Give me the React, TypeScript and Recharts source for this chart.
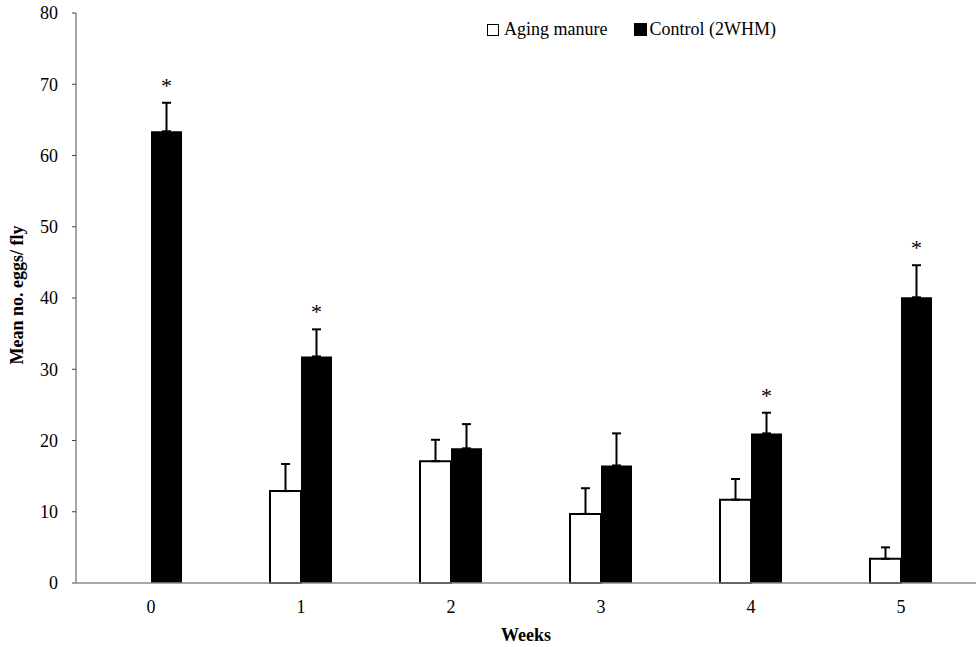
import React from "react";
import {
  BarChart,
  Bar,
  XAxis,
  YAxis,
  ErrorBar,
  LabelList,
} from "recharts";

const weeks = ["0", "1", "2", "3", "4", "5"];
const agingManure = [null, 12.9, 17.1, 9.7, 11.7, 3.4];
const agingManureErr = [null, 3.8, 3.0, 3.6, 2.9, 1.6];
const control = [63.4, 31.8, 18.9, 16.5, 21.0, 40.1];
const controlErr = [4.0, 3.8, 3.4, 4.5, 2.9, 4.5];
const controlSig = [true, true, false, false, true, true];
const yTicks = [0, 10, 20, 30, 40, 50, 60, 70, 80];

const data = weeks.map((w, i) => ({
  week: w,
  aging: agingManure[i],
  agingErr: agingManureErr[i] == null ? null : [0, agingManureErr[i]],
  control: control[i],
  controlErr: [0, controlErr[i]],
}));

const FONT = '"Liberation Serif", "Times New Roman", serif';
const AXIS = "#8a8a8a";

// asterisk above the error bar of significant weeks
// eslint-disable-next-line @typescript-eslint/no-explicit-any
function Star(props: any) {
  const vb = props.viewBox ?? props;
  const x = vb.x ?? props.x;
  const y = vb.y ?? props.y;
  const width = vb.width ?? props.width;
  const height = Math.abs(vb.height ?? props.height);
  const value = props.value;
  const i = control.indexOf(value);
  if (i < 0 || !controlSig[i] || !value) return null;
  const errPx = (controlErr[i] * height) / value;
  return (
    <text
      x={x + width / 2}
      y={y - errPx - 10}
      textAnchor="middle"
      fontSize={22}
      fontFamily={FONT}
      fill="#000"
    >
      *
    </text>
  );
}

// eslint-disable-next-line @typescript-eslint/no-explicit-any
function YLabel(props: any) {
  const vb = props.viewBox;
  const cx = 17;
  const cy = vb.y + vb.height / 2 - 3;
  return (
    <text
      x={cx}
      y={cy}
      transform={`rotate(-90, ${cx}, ${cy})`}
      textAnchor="middle"
      dominantBaseline="central"
      fontSize={18}
      fontWeight="bold"
      fontFamily={FONT}
      fill="#000"
    >
      Mean no. eggs/ fly
    </text>
  );
}

export default function App() {
  return (
    <div style={{ position: "relative", width: 980, height: 647, background: "#fff" }}>
      <style>{"body{margin:0}"}</style>
      <BarChart
        width={980}
        height={647}
        data={data}
        margin={{ top: 13, right: 4, left: 0, bottom: 0 }}
        barGap={0}
        barSize={31}
      >
        <XAxis
          dataKey="week"
          height={64}
          axisLine={{ stroke: AXIS, strokeWidth: 1.5 }}
          tickLine={false}
          tickSize={6}
          tickMargin={11}
          tick={{ fontSize: 18, fontFamily: FONT, fill: "#000" }}
          label={{
            value: "Weeks",
            position: "insideBottom",
            offset: 6,
            style: { fontSize: 18, fontWeight: "bold", fontFamily: FONT, fill: "#000" },
          }}
        />
        <YAxis
          width={76}
          domain={[0, 80]}
          ticks={yTicks}
          interval={0}
          axisLine={{ stroke: AXIS, strokeWidth: 1.5 }}
          tickLine={{ stroke: "#444" }}
          tickSize={4}
          tickMargin={14}
          tick={{ fontSize: 18, fontFamily: FONT, fill: "#000" }}
          label={{ content: YLabel }}
        />
        <Bar
          dataKey="aging"
          name="Aging manure"
          fill="#fff"
          stroke="#000"
          strokeWidth={2}
          isAnimationActive={false}
        >
          <ErrorBar dataKey="agingErr" direction="y" width={4.5} stroke="#000" strokeWidth={2} />
        </Bar>
        <Bar
          dataKey="control"
          name="Control (2WHM)"
          fill="#000"
          isAnimationActive={false}
        >
          <ErrorBar dataKey="controlErr" direction="y" width={4.5} stroke="#000" strokeWidth={2} />
          <LabelList dataKey="control" content={Star} />
        </Bar>
      </BarChart>
      <div
        style={{
          position: "absolute",
          top: 19,
          left: 487,
          display: "flex",
          alignItems: "center",
          fontFamily: FONT,
          fontSize: 18,
          color: "#000",
          whiteSpace: "nowrap",
        }}
      >
        <span
          style={{
            display: "inline-block",
            width: 10,
            height: 10,
            border: "1.5px solid #000",
            background: "#fff",
            marginRight: 5,
          }}
        />
        <span>Aging manure</span>
        <span
          style={{
            display: "inline-block",
            width: 13,
            height: 13,
            background: "#000",
            marginLeft: 27,
            marginRight: 2,
          }}
        />
        <span>Control (2WHM)</span>
      </div>
    </div>
  );
}
